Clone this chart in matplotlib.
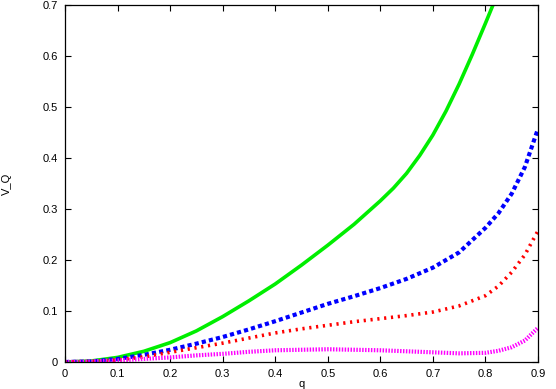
import matplotlib.pyplot as plt
import numpy as np

plt.rcParams['font.family'] = ['Liberation Sans', 'DejaVu Sans']

# valores
q_green = [0, 0.05, 0.1, 0.15, 0.2, 0.25, 0.3, 0.35, 0.4, 0.45, 0.5, 0.55,
           0.6, 0.625, 0.65, 0.675, 0.7, 0.725, 0.75, 0.775, 0.8, 0.82]
v_green = [0, 0.002, 0.009, 0.021, 0.038, 0.061, 0.089, 0.12, 0.153, 0.19,
           0.229, 0.27, 0.316, 0.341, 0.37, 0.405, 0.445, 0.492, 0.545, 0.603, 0.664, 0.714]

q_blue = [0, 0.05, 0.1, 0.15, 0.2, 0.25, 0.3, 0.35, 0.4, 0.45, 0.5, 0.55,
          0.6, 0.65, 0.7, 0.75, 0.8, 0.825, 0.85, 0.875, 0.9]
v_blue = [0, 0.001, 0.006, 0.014, 0.024, 0.036, 0.049, 0.064, 0.08, 0.097,
          0.114, 0.129, 0.145, 0.163, 0.185, 0.215, 0.263, 0.292, 0.33, 0.382, 0.457]

q_red = [0, 0.05, 0.1, 0.15, 0.2, 0.25, 0.3, 0.35, 0.4, 0.45, 0.5, 0.55,
         0.6, 0.65, 0.7, 0.75, 0.8, 0.825, 0.85, 0.875, 0.9]
v_red = [0, 0.001, 0.004, 0.01, 0.019, 0.028, 0.037, 0.047, 0.057, 0.065,
         0.072, 0.079, 0.085, 0.091, 0.098, 0.11, 0.13, 0.149, 0.176, 0.21, 0.257]

q_mag = [0, 0.05, 0.1, 0.15, 0.2, 0.25, 0.3, 0.35, 0.4, 0.45, 0.5, 0.55,
         0.6, 0.65, 0.7, 0.75, 0.8, 0.825, 0.85, 0.875, 0.9]
v_mag = [0, 0.001, 0.003, 0.006, 0.009, 0.013, 0.016, 0.02, 0.023, 0.024,
         0.025, 0.024, 0.023, 0.021, 0.019, 0.017, 0.018, 0.022, 0.029, 0.042, 0.067]

x_ticks = [0, 0.1, 0.2, 0.3, 0.4, 0.5, 0.6, 0.7, 0.8, 0.9]
y_ticks = [0, 0.1, 0.2, 0.3, 0.4, 0.5, 0.6, 0.7]

fig = plt.figure(figsize=(5.56, 3.89), dpi=100)
ax = fig.add_axes([0.117, 0.0694, 0.8505, 0.9176])

ax.plot(q_green, v_green, color='#00ee00', lw=2.6, solid_capstyle='butt')
ax.plot(q_blue, v_blue, color='#0000ff', lw=3.0, linestyle=(0, (1.0, 0.75)), dash_capstyle='butt')
ax.plot(q_red, v_red, color='#ff0000', lw=2.6, linestyle=(0, (0.6, 1.3)), dash_capstyle='butt')
ax.plot(q_mag, v_mag, color='#ff00ff', lw=3.0, linestyle=(0, (0.35, 0.35)), dash_capstyle='butt')

ax.set_xlim(0, 0.9)
ax.set_ylim(0, 0.7)
ax.set_xticks(x_ticks)
ax.set_xticklabels(['0', '0.1', '0.2', '0.3', '0.4', '0.5', '0.6', '0.7', '0.8', '0.9'])
ax.set_yticks(y_ticks)
ax.set_yticklabels(['0', '0.1', '0.2', '0.3', '0.4', '0.5', '0.6', '0.7'])
ax.tick_params(direction='in', top=True, right=True, length=4, width=0.8,
               labelsize=8, pad=5)
for s in ax.spines.values():
    s.set_linewidth(0.9)

ax.set_xlabel('q', fontsize=8, labelpad=0)
ax.set_ylabel('V_Q', fontsize=8, labelpad=22)

fig.savefig('out.png', dpi=100)
